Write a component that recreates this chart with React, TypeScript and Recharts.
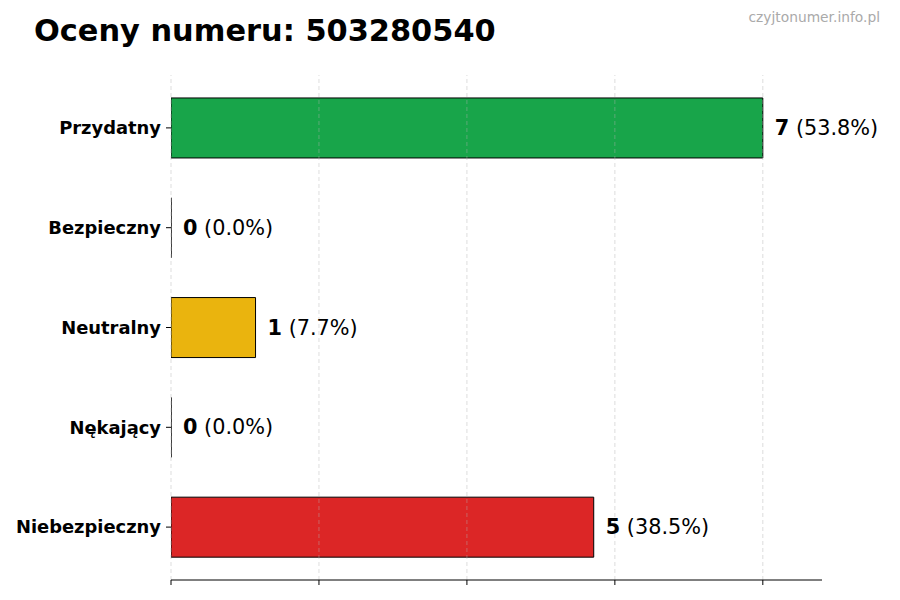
import React from 'react';
import { BarChart, Bar, XAxis, YAxis, Cell, LabelList, ReferenceLine } from 'recharts';

const categories = ['Przydatny', 'Bezpieczny', 'Neutralny', 'Nękający', 'Niebezpieczny'];
const counts = [7, 0, 1, 0, 5];
const colors = ['#18A54A', '#22C55E', '#EAB40E', '#F97316', '#DC2626'];
const xTicks = [0, 1.75, 3.5, 5.25, 7];
const title = 'Oceny numeru: 503280540';
const watermark = 'czyjtonumer.info.pl';

const total = counts.reduce((a, b) => a + b, 0);
const data = categories.map((name, i) => ({
  name,
  value: counts[i],
  pct: ((counts[i] / total) * 100).toFixed(1),
}));

const FONT = '"DejaVu Sans", sans-serif';

const BarShape = (props: any) => {
  const { x, y, width, height, fill } = props;
  const d = `M${x},${y} h${width} v${height} h${-width} Z`;
  return <path d={d} fill={fill} stroke="#000" strokeWidth={1} />;
};

const ValueLabel = (props: any) => {
  const { x, y, width, height, index } = props;
  const item = data[index];
  return (
    <text
      x={x + width + 12}
      y={y + height / 2}
      dominantBaseline="central"
      fontFamily={FONT}
      fontSize={20.8}
      fill="#000"
    >
      <tspan fontWeight="bold">{item.value}</tspan>
      <tspan>{` (${item.pct}%)`}</tspan>
    </text>
  );
};

export default function App() {
  return (
    <div style={{ position: 'absolute', left: 0, top: 0, width: 900, height: 600, background: '#fff' }}>
      <BarChart
        width={900}
        height={600}
        data={data}
        layout="vertical"
        margin={{ top: 75, right: 78, bottom: 10, left: 0 }}
        barCategoryGap="20%"
      >
        <XAxis
          type="number"
          domain={[0, 7.7]}
          ticks={xTicks}
          allowDataOverflow
          height={10}
          tickSize={5}
          tick={() => <g />}
          axisLine={{ stroke: '#000', strokeWidth: 1 }}
          tickLine={{ stroke: '#000', strokeWidth: 1 }}
        />
        <YAxis
          type="category"
          dataKey="name"
          width={171}
          padding={{ top: 3, bottom: 3 }}
          axisLine={false}
          tickSize={5}
          tickMargin={5}
          tickLine={{ stroke: '#000', strokeWidth: 1 }}
          tick={{ fontFamily: FONT, fontSize: 17.9, fontWeight: 'bold', fill: '#000' }}
        />
        <Bar dataKey="value" isAnimationActive={false} shape={<BarShape />}>
          {data.map((d, i) => (
            <Cell key={d.name} fill={colors[i]} />
          ))}
          <LabelList dataKey="value" content={<ValueLabel />} />
        </Bar>
        {xTicks.map((t) => (
          <ReferenceLine
            key={t}
            x={t}
            stroke="#b0b0b0"
            strokeOpacity={0.55}
            strokeDasharray="4 3"
            strokeWidth={0.8}
          />
        ))}
      </BarChart>
      <svg
        width={900}
        height={600}
        style={{ position: 'absolute', left: 0, top: 0, pointerEvents: 'none' }}
      >
        <text x={34} y={41} fontFamily={FONT} fontSize={30.4} fontWeight="bold" fill="#000">
          {title}
        </text>
        <text x={880} y={22} textAnchor="end" fontFamily={FONT} fontSize={13.8} fill="#aaaaaa">
          {watermark}
        </text>
      </svg>
    </div>
  );
}
